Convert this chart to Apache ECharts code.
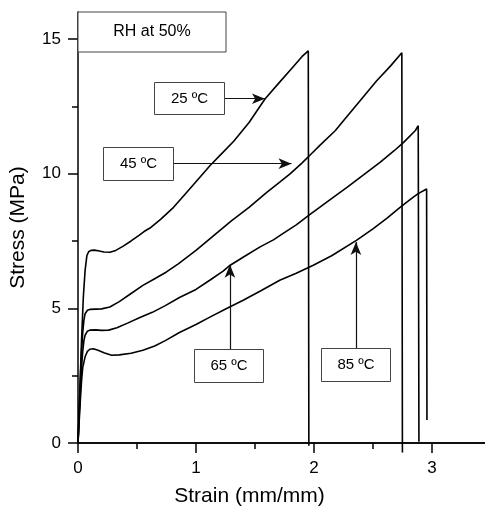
<!DOCTYPE html>
<html>
<head>
<meta charset="utf-8">
<script src="https://cdn.jsdelivr.net/npm/echarts@6/dist/echarts.min.js"></script>
<style>html,body{margin:0;padding:0;background:#fff}#c{width:485px;height:509px}</style>
</head>
<body>
<div id="c"></div>
<script>
// ---- data (strain in mm/mm, stress in MPa) ----
const strain25 = [0,0.01,0.02,0.03,0.045,0.06,0.075,0.09,0.11,0.14,0.18,0.22,0.27,0.32,0.38,0.45,0.52,0.56,0.61,0.7,0.81,0.9,1.0,1.12,1.22,1.32,1.45,1.585,1.7,1.8,1.9,1.952,1.957,1.957];
const stress25 = [0,1.2,2.5,3.8,5.4,6.4,6.95,7.1,7.15,7.16,7.13,7.09,7.08,7.15,7.3,7.5,7.72,7.85,7.98,8.3,8.75,9.2,9.7,10.3,10.75,11.2,11.9,12.77,13.35,13.85,14.35,14.56,14.5,-0.1];

const strain45 = [0,0.01,0.02,0.03,0.04,0.05,0.06,0.08,0.1,0.15,0.2,0.27,0.35,0.45,0.55,0.65,0.75,0.85,1.0,1.15,1.3,1.45,1.6,1.71,1.8,1.9,1.97,2.05,2.18,2.25,2.4,2.53,2.65,2.745,2.75,2.75];
const stress45 = [0,1.2,2.4,3.4,4.1,4.55,4.8,4.93,4.96,4.97,4.98,5.05,5.25,5.55,5.85,6.1,6.35,6.65,7.15,7.7,8.25,8.75,9.3,9.68,10.0,10.4,10.7,11.05,11.59,11.96,12.75,13.44,14.0,14.49,14.45,-0.35];

const strain65 = [0,0.01,0.02,0.03,0.04,0.05,0.06,0.08,0.1,0.15,0.2,0.26,0.33,0.42,0.52,0.63,0.74,0.86,1.0,1.12,1.23,1.29,1.42,1.54,1.66,1.71,1.85,1.97,2.12,2.28,2.42,2.56,2.68,2.76,2.86,2.884,2.89,2.89];
const stress65 = [0,1.0,2.0,2.8,3.4,3.8,4.0,4.15,4.19,4.2,4.18,4.19,4.28,4.45,4.65,4.85,5.1,5.4,5.7,6.05,6.38,6.6,6.95,7.27,7.55,7.7,8.1,8.5,8.98,9.49,9.95,10.42,10.85,11.16,11.6,11.78,11.75,0.05];

const strain85 = [0,0.01,0.02,0.03,0.04,0.06,0.08,0.1,0.13,0.17,0.22,0.285,0.35,0.45,0.55,0.65,0.74,0.86,1.0,1.13,1.26,1.4,1.55,1.71,1.85,1.99,2.15,2.36,2.5,2.62,2.73,2.82,2.88,2.955,2.958,2.958];
const stress85 = [0,0.8,1.6,2.3,2.8,3.2,3.4,3.48,3.5,3.44,3.35,3.26,3.27,3.33,3.44,3.6,3.8,4.1,4.4,4.7,4.99,5.3,5.65,6.04,6.3,6.59,6.95,7.52,7.95,8.35,8.75,9.05,9.25,9.43,9.4,0.85];

const xTicks = [0,1,2,3];
const xMinorTicks = [0.5,1.5,2.5];
const yTicks = [0,5,10,15];
const yMinorTicks = [2.5,7.5,12.5];

// annotation arrows: [label, fromStrain, fromStress, toStrain, toStress]
const arrows = [
  ['25 ºC', 1.237, 12.78, 1.585, 12.78],
  ['45 ºC', 0.80, 10.37, 1.81, 10.37],
  ['65 ºC', 1.288, 3.40, 1.288, 6.62],
  ['85 ºC', 2.356, 3.42, 2.356, 7.46]
];
const rhLabel = 'RH at 50%';

const pair = (xs, ys) => xs.map((x, i) => [x, ys[i]]);
const FONT = '"Liberation Sans", Arial, sans-serif';

const chart = echarts.init(document.getElementById('c'), null, {renderer: 'canvas'});
const XMAX = 3.45, YMAX = 16;

const lineSeries = (name, data) => ({
  name, type: 'line', data, showSymbol: false, symbol: 'none', clip: false,
  lineStyle: {color: '#000', width: 1.6}, silent: true, animation: false,
  xAxisIndex: 0, yAxisIndex: 0
});

chart.setOption({
  animation: false,
  backgroundColor: '#fff',
  grid: {left: 78, right: 0, top: 12, bottom: 66, containLabel: false},
  xAxis: [
    {type: 'value', min: 0, max: XMAX, interval: 1, position: 'bottom',
     axisLine: {show: true, onZero: false, lineStyle: {color: '#000', width: 1.5}},
     axisTick: {show: true, length: 10, inside: false, customValues: xTicks, lineStyle: {color: '#000', width: 1.5}},
     axisLabel: {show: true, customValues: xTicks, margin: 17, color: '#000', fontSize: 17, fontFamily: FONT},
     splitLine: {show: false}},
    {type: 'value', min: 0, max: XMAX, position: 'bottom',
     axisLine: {show: false},
     axisTick: {show: true, length: 6, customValues: xMinorTicks, lineStyle: {color: '#000', width: 1.5}},
     axisLabel: {show: false}, splitLine: {show: false}},
    {type: 'value', min: 0, max: XMAX, position: 'top',
     axisLine: {show: true, lineStyle: {color: '#000', width: 1.5}},
     axisTick: {show: false}, axisLabel: {show: false}, splitLine: {show: false}}
  ],
  yAxis: [
    {type: 'value', min: 0, max: YMAX, interval: 5, position: 'left',
     name: 'Stress (MPa)', nameLocation: 'middle', nameGap: 49, nameRotate: 90,
     nameTextStyle: {color: '#000', fontSize: 21, fontFamily: FONT},
     axisLine: {show: true, onZero: false, lineStyle: {color: '#000', width: 1.5}},
     axisTick: {show: true, length: 10, customValues: yTicks, lineStyle: {color: '#000', width: 1.5}},
     axisLabel: {show: true, customValues: yTicks, margin: 17, color: '#000', fontSize: 17, fontFamily: FONT},
     splitLine: {show: false}},
    {type: 'value', min: 0, max: YMAX, position: 'left',
     axisLine: {show: false},
     axisTick: {show: true, length: 6, customValues: yMinorTicks, lineStyle: {color: '#000', width: 1.5}},
     axisLabel: {show: false}, splitLine: {show: false}}
  ],
  series: [
    lineSeries('25', pair(strain25, stress25)),
    lineSeries('45', pair(strain45, stress45)),
    lineSeries('65', pair(strain65, stress65)),
    Object.assign(lineSeries('85', pair(strain85, stress85)), {
      markLine: {
        silent: true, animation: false,
        symbol: ['none', 'arrow'], symbolSize: [8, 13],
        label: {show: false},
        lineStyle: {color: '#111', width: 1.2, type: 'solid'},
        emphasis: {disabled: true},
        data: arrows.map(a => [{coord: [a[1], a[2]]}, {coord: [a[3], a[4]]}])
      }
    })
  ]
});

// annotation boxes (text kept as real text)
function box(x1, y1, x2, y2, text, size) {
  return [
    {type: 'rect', z: 10, shape: {x: x1, y: y1, width: x2 - x1, height: y2 - y1},
     style: {fill: '#fff', stroke: '#444', lineWidth: 1}},
    {type: 'text', z: 11, x: (x1 + x2) / 2, y: (y1 + y2) / 2,
     style: {text, fill: '#000', font: size + 'px ' + FONT, align: 'center', verticalAlign: 'middle'}}
  ];
}
const boxes = [].concat(
  box(78, 12, 226, 52, rhLabel, 16),
  box(154.5, 82.5, 224.5, 114.5, arrows[0][0], 15),
  box(103.5, 147.5, 173.5, 180.5, arrows[1][0], 15),
  box(194.5, 349.5, 263.5, 382.5, arrows[2][0], 15),
  box(321.5, 348.5, 390.5, 381.5, arrows[3][0], 15),
  [{type: 'text', z: 11, x: 249.5, y: 496,
    style: {text: 'Strain (mm/mm)', fill: '#000', font: '21px ' + FONT, align: 'center', verticalAlign: 'middle'}}]
);
chart.setOption({graphic: boxes});
</script>
</body>
</html>
